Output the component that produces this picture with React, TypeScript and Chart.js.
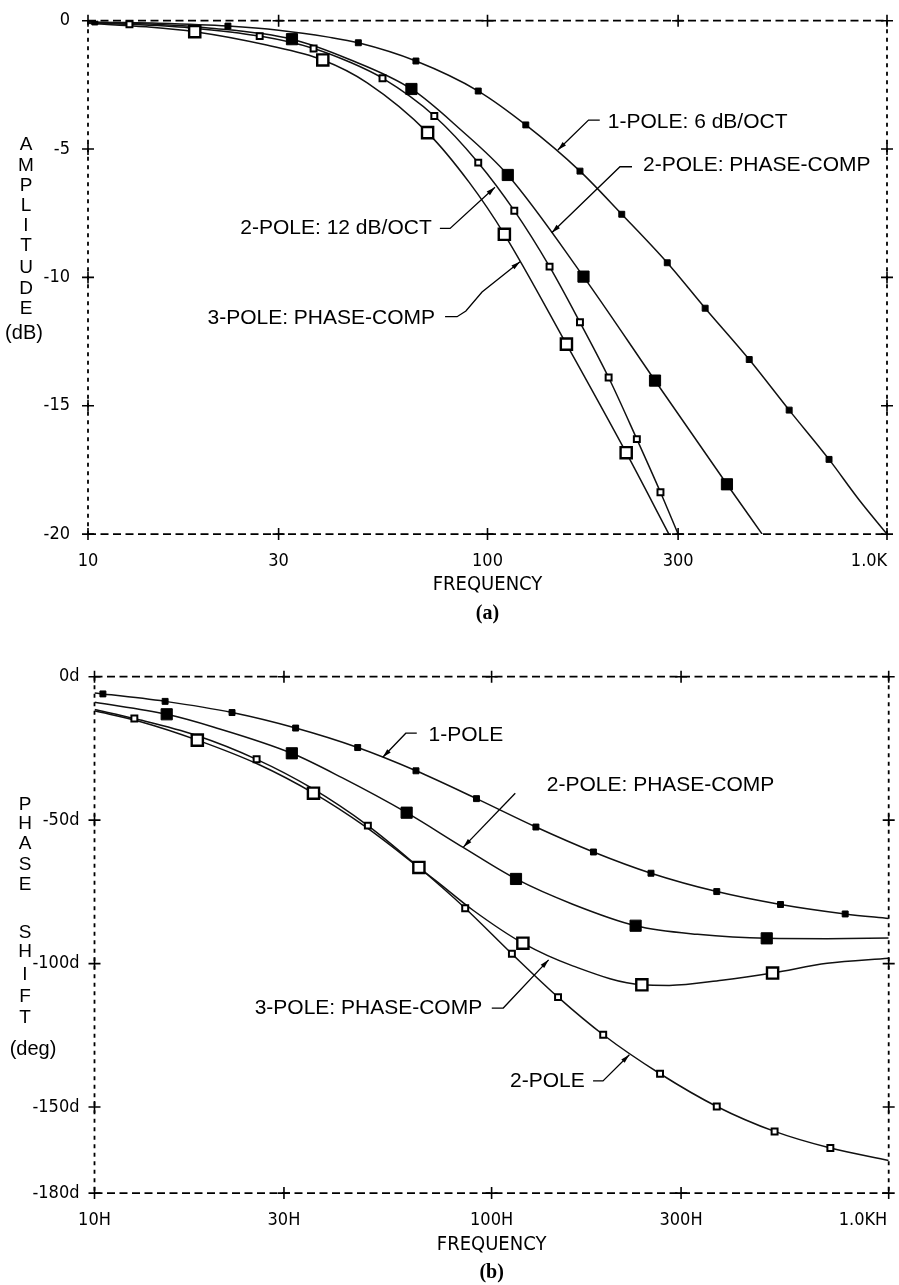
import React, { useEffect, useRef } from 'react';
import { Chart, registerables } from 'chart.js';

Chart.register(...registerables);

// ---------------- shared axis ticks ----------------
const X_TICKS = [10, 30, 100, 300, 1000];

// ---------------- (a) amplitude ----------------
const A_X_LABELS = ['10', '30', '100', '300', '1.0K'];
const A_Y_TICKS = [0, -5, -10, -15, -20];
const A_Y_LABELS = ['0', '-5', '-10', '-15', '-20'];

// 1-POLE: 6 dB/OCT
const A_1P_LINE_F = [10, 15, 30, 40, 850, 1000];
const A_1P_LINE_V = [-0.04, -0.1, -0.37, -0.64, -18.65, -20.0];
const A_1P_MARK_F = [10.4, 22.4, 47.5, 66.2, 94.8, 124.7, 170.4, 216.8, 281.8, 350.6, 452, 569, 716];
const A_1P_MARK_V = [-0.05, -0.21, -0.86, -1.57, -2.74, -4.06, -5.86, -7.54, -9.43, -11.2, -13.2, -15.17, -17.09];

// 2-POLE: 12 dB/OCT
const A_2P_LINE_F = [10, 18, 45, 300];
const A_2P_LINE_V = [-0.09, -0.28, -1.6, -20.0];
const A_2P_MARK_F = [12.7, 26.9, 36.7, 54.6, 73.6, 94.8, 116.7, 143, 170.4, 201, 236.5, 271];
const A_2P_MARK_V = [-0.14, -0.6, -1.08, -2.24, -3.71, -5.53, -7.4, -9.58, -11.75, -13.9, -16.3, -18.37];

// 2-POLE: PHASE-COMP
const A_PC2_LINE_F = [10, 15, 20, 45, 85, 487];
const A_PC2_LINE_V = [-0.07, -0.15, -0.28, -1.5, -4.2, -20.0];
const A_PC2_MARK_F = [32.4, 64.5, 112.4, 173.9, 262.6, 397.5];
const A_PC2_MARK_V = [-0.72, -2.66, -6.01, -9.97, -14.02, -18.06];

// 3-POLE: PHASE-COMP
const A_PC3_LINE_F = [10, 14, 28, 50, 90, 284.5];
const A_PC3_LINE_V = [-0.1, -0.24, -0.95, -2.42, -6.3, -20.0];
const A_PC3_MARK_F = [18.5, 38.7, 70.8, 110.2, 157.6, 222.4];
const A_PC3_MARK_V = [-0.43, -1.53, -4.36, -8.32, -12.6, -16.83];

// ---------------- (b) phase ----------------
const B_X_LABELS = ['10H', '30H', '100H', '300H', '1.0KH'];
const B_Y_TICKS = [0, -50, -100, -150, -180];
const B_Y_LABELS = ['0d', '-50d', '-100d', '-150d', '-180d'];

// 1-POLE
const B_1P_LINE_F = [10, 1000];
const B_1P_LINE_V = [-5.7, -84.3];
const B_1P_MARK_F = [10.5, 15.06, 22.2, 32.1, 46, 64.5, 91.6, 129.3, 180.5, 252, 369, 534, 777];
const B_1P_MARK_V = [-6.0, -8.6, -12.5, -17.9, -24.7, -32.8, -42.5, -52.4, -61.1, -68.5, -74.9, -79.4, -82.7];

// 2-POLE
const B_2P_LINE_F = [10, 18, 35, 65, 1000];
const B_2P_LINE_V = [-11.4, -20.4, -38.6, -66.0, -168.6];
const B_2P_MARK_F = [12.6, 25.6, 48.8, 85.8, 112.5, 147, 191, 265.6, 369, 516, 713];
const B_2P_MARK_V = [-14.6, -28.8, -51.9, -80.7, -96.6, -111.7, -124.8, -138.4, -149.8, -158.5, -164.3];

// 2-POLE: PHASE-COMP
const B_PC2_LINE_F = [10, 20, 42, 85, 160, 330, 700, 1000];
const B_PC2_LINE_V = [-8.9, -17.6, -35.2, -59.6, -79.3, -89.8, -91.3, -91.1];
const B_PC2_MARK_F = [15.2, 31.4, 61.1, 115.2, 230.5, 493];
const B_PC2_MARK_V = [-13.1, -26.7, -47.4, -70.5, -86.8, -91.2];

// 3-POLE: PHASE-COMP
const B_PC3_LINE_F = [10, 13, 26, 48, 73, 90, 160, 280, 380, 700, 1000];
const B_PC3_LINE_V = [-11.9, -15.6, -30.7, -52.2, -71.5, -81.5, -100.8, -107.6, -105.8, -99.9, -98.1];
const B_PC3_MARK_F = [18.15, 35.6, 65.6, 119.9, 239, 510];
const B_PC3_MARK_V = [-22.1, -40.6, -66.5, -92.9, -107.4, -103.3];

// ---------------- annotations (anchored in data coordinates) ----------------
const A_NOTES = [
  { text: '1-POLE: 6 dB/OCT', at: [200, -3.95], align: 'left', path: [[191, -3.87], [179, -3.87], [150, -5.04]] },
  { text: '2-POLE: PHASE-COMP', at: [245, -5.62], align: 'left', path: [[230, -5.69], [214.6, -5.69], [144.8, -8.26]] },
  { text: '2-POLE: 12 dB/OCT', at: [72.5, -8.09], align: 'right', path: [[76.0, -8.09], [80.6, -8.09], [104.4, -6.49]] },
  { text: '3-POLE: PHASE-COMP', at: [73.9, -11.59], align: 'right', path: [[78.3, -11.53], [83.9, -11.53], [88.3, -11.31], [96.9, -10.57], [120.6, -9.39]] },
];
const B_NOTES = [
  { text: '1-POLE', at: [69.4, -20.3], align: 'left', path: [[64.8, -19.7], [60.8, -19.7], [53.2, -28.1]] },
  { text: '2-POLE: PHASE-COMP', at: [137.7, -37.7], align: 'left', path: [[114.7, -40.6], [84.9, -59.4]] },
  { text: '3-POLE: PHASE-COMP', at: [94.7, -115.5], align: 'right', path: [[100.1, -115.5], [107, -115.5], [139.2, -98.7]] },
  { text: '2-POLE', at: [171.6, -140.9], align: 'right', path: [[180.1, -140.9], [190.8, -140.9], [222.3, -131.8]] },
];

const A_TITLE_LETTERS = ['A', 'M', 'P', 'L', 'I', 'T', 'U', 'D', 'E'];
const A_TITLE_UNIT = '(dB)';
const B_TITLE_LETTERS = ['P', 'H', 'A', 'S', 'E', 'S', 'H', 'I', 'F', 'T'];
const B_TITLE_UNIT = '(deg)';

// ---------------- layout / style ----------------
const NARROW = "'Liberation Sans Narrow', 'DejaVu Sans Condensed', 'Liberation Sans', Arial, sans-serif";
const SANS = "'Liberation Sans', Arial, sans-serif";

const SPEC_A = {
  key: 'a',
  canvasTop: 0,
  canvasH: 626,
  pad: { left: 0, top: 20.7, right: 12, bottom: 0.2 },
  yWidth: 88,
  xHeight: 67.7,
  titlePad: 5,
  yTickPad: 10,
  xTickPad: 8,
  yMin: -20,
  yMax: 0,
  yTicks: A_Y_TICKS,
  yLabels: A_Y_LABELS,
  xLabels: A_X_LABELS,
  lastPad: '       ',
  sub: '(a)',
  notes: A_NOTES,
  letters: A_TITLE_LETTERS,
  letterX: 26,
  letterY: [145, 166, 186, 206, 226, 246, 268, 289, 309],
  unit: A_TITLE_UNIT,
  unitX: 24,
  unitY: 333,
  series: [
    { lf: A_1P_LINE_F, lv: A_1P_LINE_V, mf: A_1P_MARK_F, mv: A_1P_MARK_V, big: false, open: false },
    { lf: A_2P_LINE_F, lv: A_2P_LINE_V, mf: A_2P_MARK_F, mv: A_2P_MARK_V, big: false, open: true },
    { lf: A_PC2_LINE_F, lv: A_PC2_LINE_V, mf: A_PC2_MARK_F, mv: A_PC2_MARK_V, big: true, open: false },
    { lf: A_PC3_LINE_F, lv: A_PC3_LINE_V, mf: A_PC3_MARK_F, mv: A_PC3_MARK_V, big: true, open: true },
  ],
  names: ['1-POLE: 6 dB/OCT', '2-POLE: 12 dB/OCT', '2-POLE: PHASE-COMP', '3-POLE: PHASE-COMP'],
};

const SPEC_B = {
  key: 'b',
  canvasTop: 640,
  canvasH: 645,
  pad: { left: 0, top: 36.7, right: 5, bottom: 0.2 },
  yWidth: 94.5,
  xHeight: 67.7,
  titlePad: 4,
  yTickPad: 7,
  xTickPad: 8,
  yMin: -180,
  yMax: 0,
  yTicks: B_Y_TICKS,
  yLabels: B_Y_LABELS,
  xLabels: B_X_LABELS,
  lastPad: '          ',
  sub: '(b)',
  notes: B_NOTES,
  letters: B_TITLE_LETTERS,
  letterX: 25,
  letterY: [805, 824, 844, 865, 885, 933, 952, 975, 997, 1018].map((v) => v - 640),
  unit: B_TITLE_UNIT,
  unitX: 33,
  unitY: 1049 - 640,
  series: [
    { lf: B_1P_LINE_F, lv: B_1P_LINE_V, mf: B_1P_MARK_F, mv: B_1P_MARK_V, big: false, open: false },
    { lf: B_2P_LINE_F, lv: B_2P_LINE_V, mf: B_2P_MARK_F, mv: B_2P_MARK_V, big: false, open: true },
    { lf: B_PC2_LINE_F, lv: B_PC2_LINE_V, mf: B_PC2_MARK_F, mv: B_PC2_MARK_V, big: true, open: false },
    { lf: B_PC3_LINE_F, lv: B_PC3_LINE_V, mf: B_PC3_MARK_F, mv: B_PC3_MARK_V, big: true, open: true },
  ],
  names: ['1-POLE', '2-POLE', '2-POLE: PHASE-COMP', '3-POLE: PHASE-COMP'],
};

function zip(f: number[], v: number[]) {
  return f.map((x, i) => ({ x, y: v[i] }));
}

function merged(s: any) {
  return zip(s.lf, s.lv).concat(zip(s.mf, s.mv)).sort((a, b) => a.x - b.x);
}

function makeOverlay(spec: any) {
  return {
    id: 'overlay_' + spec.key,
    afterDraw(chart: any) {
      const { ctx, chartArea: ca, scales } = chart;
      const xs = scales.x;
      const ys = scales.y;
      ctx.save();
      ctx.strokeStyle = '#000';
      ctx.fillStyle = '#000';
      // dashed frame
      ctx.lineWidth = 1.8;
      ctx.setLineDash([8, 4.5]);
      ctx.beginPath();
      ctx.moveTo(ca.left, ca.top);
      ctx.lineTo(ca.right, ca.top);
      ctx.moveTo(ca.left, ca.bottom);
      ctx.lineTo(ca.right, ca.bottom);
      ctx.stroke();
      ctx.setLineDash([4, 4.5]);
      ctx.beginPath();
      ctx.moveTo(ca.left, ca.top);
      ctx.lineTo(ca.left, ca.bottom);
      ctx.moveTo(ca.right, ca.top);
      ctx.lineTo(ca.right, ca.bottom);
      ctx.stroke();
      ctx.setLineDash([]);
      // "+" tick marks
      ctx.lineWidth = 1.6;
      const arm = 6;
      ctx.beginPath();
      for (const v of X_TICKS) {
        const px = xs.getPixelForValue(v);
        for (const py of [ca.top, ca.bottom]) {
          ctx.moveTo(px - arm, py);
          ctx.lineTo(px + arm, py);
          ctx.moveTo(px, py - arm);
          ctx.lineTo(px, py + arm);
        }
      }
      for (const v of spec.yTicks) {
        const py = ys.getPixelForValue(v);
        for (const px of [ca.left, ca.right]) {
          ctx.moveTo(px - arm, py);
          ctx.lineTo(px + arm, py);
          ctx.moveTo(px, py - arm);
          ctx.lineTo(px, py + arm);
        }
      }
      ctx.stroke();
      // annotations with leader arrows
      ctx.lineWidth = 1.3;
      for (const n of spec.notes) {
        const pts = n.path.map((p: number[]) => [xs.getPixelForValue(p[0]), ys.getPixelForValue(p[1])]);
        ctx.beginPath();
        ctx.moveTo(pts[0][0], pts[0][1]);
        for (let i = 1; i < pts.length; i++) ctx.lineTo(pts[i][0], pts[i][1]);
        ctx.stroke();
        const [x1, y1] = pts[pts.length - 2];
        const [x2, y2] = pts[pts.length - 1];
        const ang = Math.atan2(y2 - y1, x2 - x1);
        const L = 9;
        const W = 2.4;
        ctx.beginPath();
        ctx.moveTo(x2, y2);
        ctx.lineTo(x2 - L * Math.cos(ang) + W * Math.sin(ang), y2 - L * Math.sin(ang) - W * Math.cos(ang));
        ctx.lineTo(x2 - L * Math.cos(ang) - W * Math.sin(ang), y2 - L * Math.sin(ang) + W * Math.cos(ang));
        ctx.closePath();
        ctx.fill();
        ctx.font = '21px ' + SANS;
        ctx.textAlign = n.align;
        ctx.textBaseline = 'middle';
        ctx.fillText(n.text, xs.getPixelForValue(n.at[0]), ys.getPixelForValue(n.at[1]));
      }
      // stacked vertical axis title
      ctx.textAlign = 'center';
      ctx.textBaseline = 'middle';
      ctx.font = '19px ' + SANS;
      spec.letters.forEach((ch: string, i: number) => ctx.fillText(ch, spec.letterX, spec.letterY[i]));
      ctx.font = '20px ' + SANS;
      ctx.fillText(spec.unit, spec.unitX, spec.unitY);
      ctx.restore();
    },
  };
}

function makeConfig(spec: any) {
  const datasets: any[] = [];
  spec.series.forEach((s: any, i: number) => {
    datasets.push({
      type: 'line',
      label: spec.names[i],
      data: merged(s),
      borderColor: '#111',
      borderWidth: 1.5,
      pointRadius: 0,
      pointHoverRadius: 0,
      cubicInterpolationMode: 'monotone',
      fill: false,
      order: 2,
    });
    datasets.push({
      type: 'line',
      label: spec.names[i] + ' markers',
      data: zip(s.mf, s.mv),
      showLine: false,
      pointStyle: 'rect',
      pointRadius: s.big ? 7.9 : 4.2,
      pointHoverRadius: s.big ? 7.9 : 4.2,
      pointBackgroundColor: s.open ? '#fff' : '#000',
      pointBorderColor: '#000',
      pointBorderWidth: s.open ? (s.big ? 2.4 : 2) : 1,
      order: 1,
    });
  });
  const tickFont = { family: NARROW, size: 18 };
  const lastIdx = spec.xLabels.length - 1;
  return {
    type: 'line',
    data: { datasets },
    options: {
      responsive: false,
      maintainAspectRatio: false,
      animation: false,
      devicePixelRatio: 1,
      events: [],
      layout: { padding: spec.pad },
      plugins: {
        legend: { display: false },
        tooltip: { enabled: false },
        title: { display: false },
        subtitle: {
          display: true,
          text: spec.sub,
          position: 'bottom',
          fullSize: false,
          color: '#000',
          font: { family: "'Liberation Serif', 'Times New Roman', serif", size: 20, weight: 'bold' },
          padding: { top: 0, bottom: 0 },
        },
      },
      scales: {
        x: {
          type: 'logarithmic',
          position: 'bottom',
          min: 10,
          max: 1000,
          grid: { display: false },
          border: { display: false },
          afterBuildTicks: (sc: any) => {
            sc.ticks = X_TICKS.map((v) => ({ value: v }));
          },
          afterFit: (sc: any) => {
            sc.height = spec.xHeight;
            sc.paddingLeft = 0;
            sc.paddingRight = 0;
          },
          ticks: {
            autoSkip: false,
            maxRotation: 0,
            minRotation: 0,
            padding: spec.xTickPad,
            color: '#000',
            font: tickFont,
            callback: (_v: any, i: number) => (i === lastIdx ? spec.xLabels[i] + spec.lastPad : spec.xLabels[i]),
          },
          title: {
            display: true,
            text: 'FREQUENCY',
            color: '#000',
            font: { family: NARROW, size: 20 },
            padding: { top: 0, bottom: spec.titlePad },
          },
        },
        y: {
          type: 'linear',
          position: 'left',
          min: spec.yMin,
          max: spec.yMax,
          grid: { display: false },
          border: { display: false },
          afterBuildTicks: (sc: any) => {
            sc.ticks = spec.yTicks.map((v: number) => ({ value: v }));
          },
          afterFit: (sc: any) => {
            sc.width = spec.yWidth;
            sc.paddingTop = 0;
            sc.paddingBottom = 0;
          },
          ticks: {
            padding: spec.yTickPad,
            color: '#000',
            font: tickFont,
            callback: (_v: any, i: number) => spec.yLabels[i],
          },
        },
      },
    },
    plugins: [makeOverlay(spec)],
  };
}

export default function App() {
  const refA = useRef<HTMLCanvasElement>(null);
  const refB = useRef<HTMLCanvasElement>(null);

  useEffect(() => {
    const ca = new Chart(refA.current as HTMLCanvasElement, makeConfig(SPEC_A) as any);
    const cb = new Chart(refB.current as HTMLCanvasElement, makeConfig(SPEC_B) as any);
    return () => {
      ca.destroy();
      cb.destroy();
    };
  }, []);

  return (
    <div style={{ position: 'absolute', left: 0, top: 0, width: 899, height: 1285, background: '#fff', overflow: 'hidden' }}>
      <canvas
        ref={refA}
        width={899}
        height={SPEC_A.canvasH}
        style={{ position: 'absolute', left: 0, top: SPEC_A.canvasTop, width: 899, height: SPEC_A.canvasH }}
      />
      <canvas
        ref={refB}
        width={899}
        height={SPEC_B.canvasH}
        style={{ position: 'absolute', left: 0, top: SPEC_B.canvasTop, width: 899, height: SPEC_B.canvasH }}
      />
    </div>
  );
}
